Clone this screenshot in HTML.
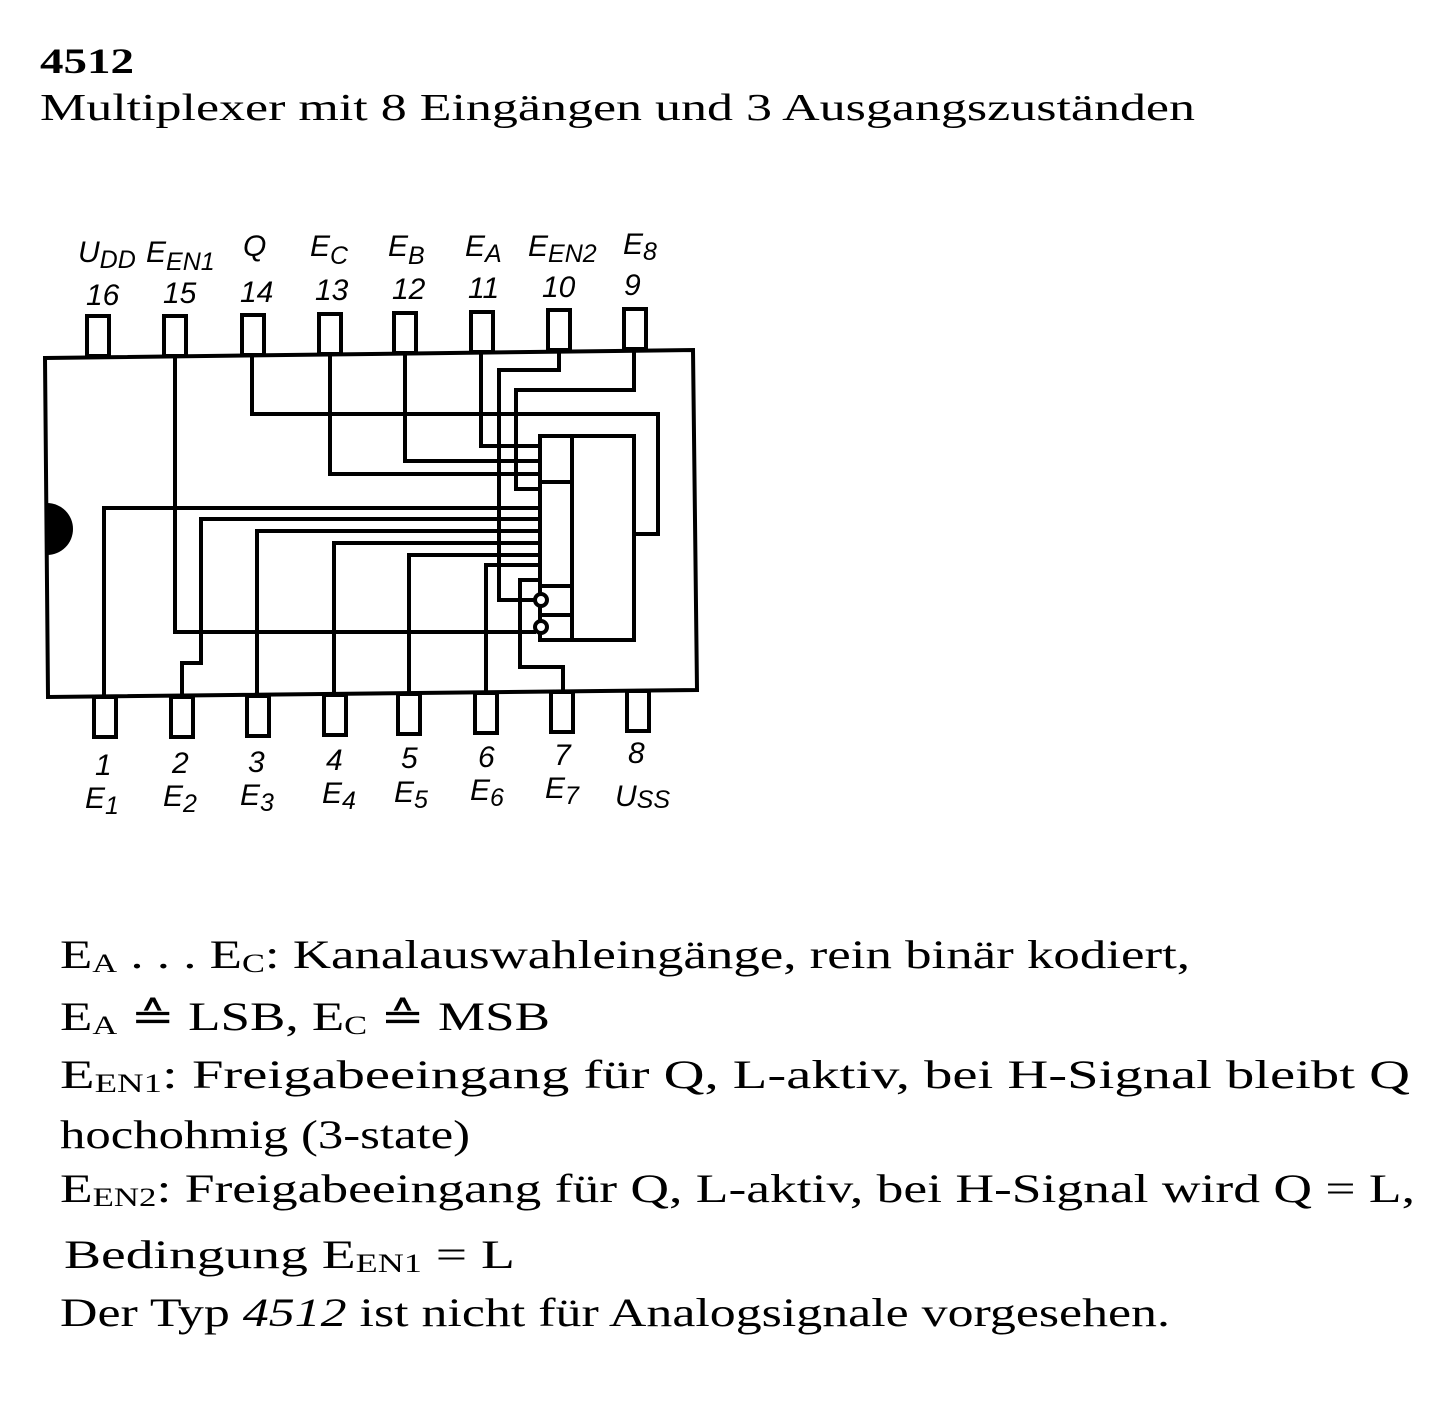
<!DOCTYPE html>
<html><head><meta charset="utf-8"><style>
html,body{margin:0;padding:0;background:#fff;}
svg{display:block}
.s{font-family:"Liberation Serif",serif;fill:#000}
.p{font-family:"Liberation Sans",sans-serif;font-style:italic;fill:#000;font-size:30px}
.sb{font-size:25px}
</style></head><body>
<svg width="1448" height="1412" viewBox="0 0 1448 1412" xmlns="http://www.w3.org/2000/svg">
<text class="s" x="40" y="73" font-size="36" font-weight="bold" textLength="94" lengthAdjust="spacingAndGlyphs">4512</text>
<text class="s" x="40" y="120" font-size="38" textLength="1155" lengthAdjust="spacingAndGlyphs">Multiplexer mit 8 Eingängen und 3 Ausgangszuständen</text>

<g fill="none" stroke="#000" stroke-width="4">
<path d="M45 358 L693 350 L697 690 L48 697 Z"/>
<rect x="87" y="316" width="22" height="40"/>
<rect x="164" y="316" width="22" height="40"/>
<rect x="242" y="315" width="22" height="40"/>
<rect x="319" y="314" width="22" height="40"/>
<rect x="394" y="313" width="22" height="40"/>
<rect x="471" y="312" width="22" height="40"/>
<rect x="548" y="310" width="22" height="40"/>
<rect x="624" y="309" width="22" height="40"/>
<rect x="94" y="697" width="22" height="40"/>
<rect x="171" y="697" width="22" height="40"/>
<rect x="247" y="696" width="22" height="40"/>
<rect x="324" y="695" width="22" height="40"/>
<rect x="398" y="694" width="22" height="40"/>
<rect x="475" y="693" width="22" height="40"/>
<rect x="551" y="692" width="22" height="40"/>
<rect x="627" y="691" width="22" height="40"/>
<rect x="540" y="436" width="94" height="204"/>
<line x1="572" y1="436" x2="572" y2="640"/>
<line x1="540" y1="482" x2="572" y2="482"/>
<line x1="540" y1="586" x2="572" y2="586"/>
<line x1="540" y1="615" x2="572" y2="615"/>
<polyline points="175,357 175,632 536,632"/>
<polyline points="252,356 252,414 658,414 658,534 634,534"/>
<polyline points="330,355 330,474 540,474"/>
<polyline points="405,354 405,461 540,461"/>
<polyline points="481,353 481,446 540,446"/>
<polyline points="559,351 559,370 499,370 499,600 535,600"/>
<polyline points="634,351 634,390 516,390 516,489 540,489"/>
<polyline points="104,697 104,508 540,508"/>
<polyline points="182,697 182,663 201,663 201,519 540,519"/>
<polyline points="257,696 257,531 540,531"/>
<polyline points="334,695 334,543 540,543"/>
<polyline points="409,694 409,555 540,555"/>
<polyline points="486,693 486,565 540,565"/>
<polyline points="563,692 563,667 520,667 520,580 540,580"/>
<circle cx="541" cy="600" r="6" fill="#fff"/>
<circle cx="541" cy="627" r="6" fill="#fff"/>
</g>
<path d="M47 503 A26 26 0 0 1 47 555 Z" fill="#000"/>

<text class="p" x="78" y="262">U<tspan class="sb" dy="6">DD</tspan></text>
<text class="p" x="146" y="262">E<tspan class="sb" dy="8">EN1</tspan></text>
<text class="p" x="243" y="256">Q</text>
<text class="p" x="310" y="256">E<tspan class="sb" dy="8">C</tspan></text>
<text class="p" x="388" y="256">E<tspan class="sb" dy="8">B</tspan></text>
<text class="p" x="465" y="256">E<tspan class="sb" dy="6">A</tspan></text>
<text class="p" x="528" y="256">E<tspan class="sb" dy="6">EN2</tspan></text>
<text class="p" x="623" y="254">E<tspan class="sb" dy="6">8</tspan></text>
<text class="p" x="86" y="305">16</text>
<text class="p" x="163" y="303">15</text>
<text class="p" x="240" y="302">14</text>
<text class="p" x="315" y="300">13</text>
<text class="p" x="392" y="299">12</text>
<text class="p" x="468" y="298">11</text>
<text class="p" x="542" y="297">10</text>
<text class="p" x="624" y="295">9</text>
<text class="p" x="95" y="775">1</text>
<text class="p" x="172" y="773">2</text>
<text class="p" x="248" y="772">3</text>
<text class="p" x="326" y="770">4</text>
<text class="p" x="401" y="768">5</text>
<text class="p" x="478" y="767">6</text>
<text class="p" x="554" y="765">7</text>
<text class="p" x="628" y="763">8</text>
<text class="p" x="85" y="808">E<tspan class="sb" dy="6">1</tspan></text>
<text class="p" x="163" y="806">E<tspan class="sb" dy="6">2</tspan></text>
<text class="p" x="240" y="805">E<tspan class="sb" dy="6">3</tspan></text>
<text class="p" x="322" y="803">E<tspan class="sb" dy="6">4</tspan></text>
<text class="p" x="394" y="802">E<tspan class="sb" dy="6">5</tspan></text>
<text class="p" x="470" y="800">E<tspan class="sb" dy="6">6</tspan></text>
<text class="p" x="545" y="798">E<tspan class="sb" dy="6">7</tspan></text>
<text class="p" x="615" y="806">U<tspan class="sb" dy="2">SS</tspan></text>

<g class="s" font-size="40">
<text x="60" y="968" textLength="1130" lengthAdjust="spacingAndGlyphs">E<tspan font-size="26" dy="4">A</tspan><tspan dy="-4"> . . . E</tspan><tspan font-size="26" dy="4">C</tspan><tspan dy="-4">: Kanalauswahleingänge, rein binär kodiert,</tspan></text>
<text x="60" y="1030" textLength="490" lengthAdjust="spacingAndGlyphs">E<tspan font-size="26" dy="4">A</tspan><tspan dy="-4"> ≙ LSB, E</tspan><tspan font-size="26" dy="4">C</tspan><tspan dy="-4"> ≙ MSB</tspan></text>
<text x="60" y="1088" textLength="1350" lengthAdjust="spacingAndGlyphs">E<tspan font-size="26" dy="4">EN1</tspan><tspan dy="-4">: Freigabeeingang für Q, L-aktiv, bei H-Signal bleibt Q</tspan></text>
<text x="60" y="1148" textLength="410" lengthAdjust="spacingAndGlyphs">hochohmig (3-state)</text>
<text x="60" y="1202" textLength="1355" lengthAdjust="spacingAndGlyphs">E<tspan font-size="26" dy="4">EN2</tspan><tspan dy="-4">: Freigabeeingang für Q, L-aktiv, bei H-Signal wird Q = L,</tspan></text>
<text x="64" y="1268" textLength="451" lengthAdjust="spacingAndGlyphs">Bedingung E<tspan font-size="26" dy="4">EN1</tspan><tspan dy="-4"> = L</tspan></text>
<text x="60" y="1326" textLength="1110" lengthAdjust="spacingAndGlyphs">Der Typ <tspan font-style="italic">4512</tspan> ist nicht für Analogsignale vorgesehen.</text>
</g>
</svg>
</body></html>
